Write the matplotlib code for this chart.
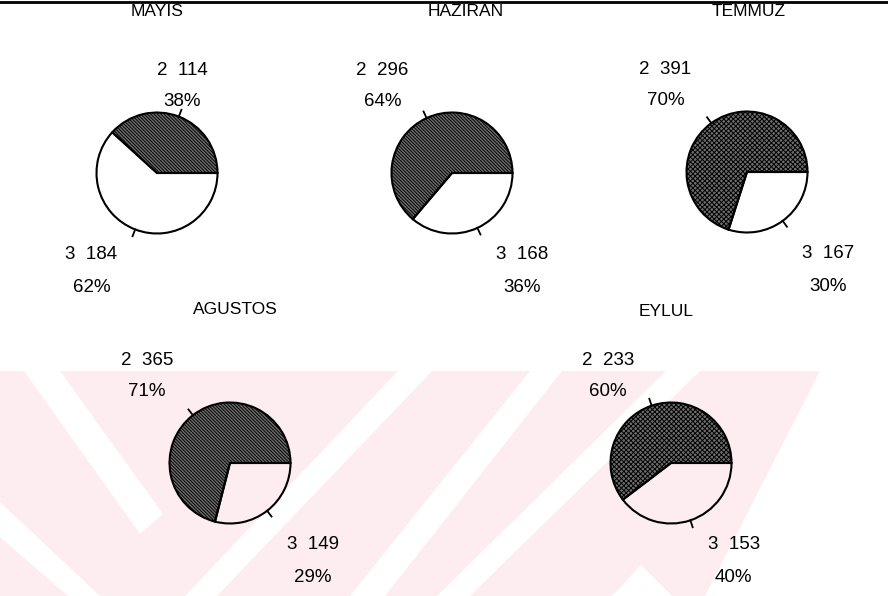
import numpy as np
import matplotlib
matplotlib.use('Agg')
import matplotlib.pyplot as plt
from matplotlib.patches import Polygon

# data
months = ['MAYIS', 'HAZIRAN', 'TEMMUZ', 'AGUSTOS', 'EYLUL']
groups = ['2', '3']
group2 = [114, 296, 391, 365, 233]
group3 = [184, 168, 167, 149, 153]

# layout (pixel coords of the page, y from top)
W, H = 888, 596
R = 60.5
centers = [(157, 173), (452, 173), (747, 172), (230, 463), (671, 463)]
title_xy = [(157, 12), (466, 12), (749, 12), (235, 309), (666, 311)]
hatches = ['\\' * 10, '\\' * 10, 'x' * 7, '\\' * 10, 'x' * 7]

plt.rcParams['font.family'] = ['Liberation Sans', 'DejaVu Sans']
plt.rcParams['hatch.linewidth'] = 0.7

fig = plt.figure(figsize=(8.88, 5.96), dpi=100)
ax = fig.add_axes([0, 0, 1, 1])

# faint pink watermark of the scan
pink = '#fdedf0'
ax.add_patch(Polygon([(0, 371), (820, 371), (705, 596), (0, 596)], closed=True,
                     fc=pink, ec='none', zorder=0))
bands = [
    [(24, 371), (60, 371), (163, 514), (140, 534)],
    [(0, 502), (0, 537), (68, 596), (100, 596)],
    [(398, 371), (432, 371), (217, 596), (185, 596)],
    [(530, 371), (562, 371), (385, 596), (350, 596)],
    [(666, 371), (700, 371), (470, 596), (437, 596)],
    [(612, 596), (641, 565), (672, 596)],
]
for b in bands:
    ax.add_patch(Polygon(b, closed=True, fc='white', ec='none', zorder=0.5))

ax.plot([0, W], [2, 2], color='black', lw=2, zorder=3)

for i, m in enumerate(months):
    cx, cy = centers[i]
    vals = [group2[i], group3[i]]
    wedges, _ = ax.pie(vals, center=(cx, cy), radius=R, startangle=0,
                       counterclock=False, frame=True,
                       colors=['#6e6e6e', 'none'],
                       wedgeprops=dict(edgecolor='black', linewidth=1.5))
    wedges[0].set_hatch(hatches[i])
    for w in wedges:
        w.set_zorder(2)
    pct = np.array(vals) / sum(vals) * 100
    for w, g, v, p in zip(wedges, groups, vals, pct):
        phi = np.deg2rad(-(w.theta1 + w.theta2) / 2)
        c, s = np.cos(phi), np.sin(phi)
        ax.plot([cx + R * c, cx + 1.12 * R * c], [cy - R * s, cy - 1.12 * R * s],
                color='black', lw=1.3, zorder=3)
        push = -1 if c < 0 else (1 if s < 0 else 0)
        lx = cx + R * (1.15 * c + 0.67 * push)
        if s > 0:
            ny, py = cy - 1.7 * R, cy - 1.18 * R
        else:
            ny, py = cy + 1.35 * R, cy + 1.9 * R
        ax.text(lx, ny, f'{g}  {v}', ha='center', va='center', fontsize=13.5)
        ax.text(lx, py, f'{p:.0f}%', ha='center', va='center', fontsize=13.5)
    tx, ty = title_xy[i]
    ax.text(tx, ty, m, ha='center', va='center', fontsize=12.5)

ax.set_xlim(0, W)
ax.set_ylim(H, 0)
ax.set_aspect('auto')
ax.axis('off')
fig.savefig('out.png', dpi=100)
